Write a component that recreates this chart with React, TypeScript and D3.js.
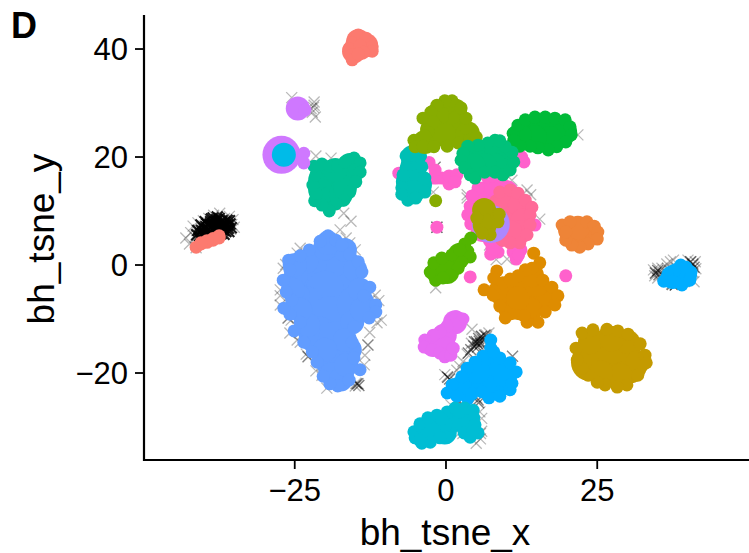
import React from "react";
import * as d3 from "d3";

type P = [number, number];

const xTicks = [-25, 0, 25];
const yTicks = [-20, 0, 20, 40];

const unassignedCore: P[] = [
  [-41,6.4],[-40.5,7.4],[-40.3,5.8],[-40,6.8],[-39.8,8],[-39.5,5.6],[-39.3,6.6],[-39,7.6],[-38.8,8.5],[-38.6,5.9],[-38.3,6.9],[-38,7.9],[-37.8,8.9],[-37.6,6.3],[-37.3,7.2],[-37,8.2],[-36.8,6.4],[-36.5,7.4],[-36.2,8.3],[-36,6.8],[-35.7,7.6],[-39.7,7.1],[-38.7,7.2],[-37.7,7.6],[-36.9,7.2],[-38.2,6.1],[-37.2,5.8],[-36.4,6.2],[-39.9,5.2],[-38.9,5.4],
  [-40.7,5.4],[-40.4,6.4],[-39.9,6],[-39.5,7.6],[-39.1,6.2],[-38.9,8],[-38.4,7.5],[-38.1,6.7],[-37.9,8.4],[-37.4,6.7],[-37.2,7.8],[-36.7,6.9],[-36.6,7.9],[-36.1,7.4],[-35.9,6.2],[-38.5,8.7],[-37.5,8.6],[-39.3,5.1],[-40.8,4.9],[-41.2,5.6],[-36.7,5.7],[-38.1,5.2],[-35.5,6.9],[-35.8,8.2],
];

const unassignedDense: P[] = [
  [5,-14.2],[5.4,-13.6],[5.7,-14.6],[6.1,-13.9],[4.6,-15],[5.2,-15.2],[4.1,-15.7],[5.9,-13.2],[6.4,-13],[3.7,-16.3],[4.7,-14.2],[5.2,-14.6],[5.5,-14.1],
  [0.3,-20.8],[0.6,-21.1],[2,-25],[2.1,-25.4],[5.3,-25],[5.4,-25.5],[-14.7,-22],[-14.4,-22.3],
  [34.6,-1.5],[35,-1],[35.2,-1.8],[37.4,-3.6],[37.9,-3.7],[40.8,0.2],[40.4,0.6],[41,-0.4],
];

const unassigned: P[] = [
  // left group
  [-42.2,6],[-41.8,7.2],[-41.5,5.2],[-41.2,6.4],[-41,7.8],[-40.7,4.6],[-40.5,5.8],[-40.3,7],[-40.1,8.2],[-39.8,5.4],[-39.6,6.4],[-39.4,7.4],[-39.2,8.6],[-39,5.9],[-38.8,6.9],[-38.6,7.9],[-38.4,9.2],[-38.2,5.5],[-38,6.4],[-37.8,7.3],[-37.6,8.2],[-37.4,9.6],[-37.2,5.9],[-37,6.8],[-36.8,7.7],[-36.6,8.6],[-36.4,6.2],[-36.2,7.1],[-36,8],[-35.8,9],[-35.6,6.6],[-35.4,7.5],[-35.2,8.4],[-35,7],[-43,5],[-42.4,3.9],[-41.3,3.2],
  // right group
  [34.3,-0.9],[34.7,-1.5],[35,-0.6],[34.5,-2],[35.3,-1.3],[35.7,-0.6],[36.5,0.2],[37.1,0.6],[37.6,0.9],[40,0.9],[40.5,0.6],[40.8,0],[41.2,0.6],[40.8,-1.3],[37.3,-3.5],[37.9,-3.7],[41,-3.1],[35,-2.4],[35.8,-1.9],[36.6,-0.6],[38,-3.6],[41.3,-0.7],
  // around blue group
  [-26.9,-0.6],[-26.5,0.1],[-27.4,-4.6],[-27.4,-5.7],[-26.1,-9.8],[-25.6,-10.2],[-26.1,-9.8],[-24.1,-14.3],[-24.6,-13.9],[-22.8,-17],[-23.1,-16.5],[-22.8,-17],[-12.9,-14.8],[-12.9,-14.8],[-14.5,-22],[-15,-22.4],[-14.9,-21.9],[-11.4,-10.7],[-10.7,-10.2],[-15.9,4.1],[-17.5,6.5],[-15,2.8],[-24.1,3.1],[-19.7,-22.8],[-13.4,-16.7],[-11.7,-5.6],[-20.5,-20.4],[-27.4,-7.4],[-24.6,2.2],[-16.5,5],[-11.1,-6.6],[-12.6,-12.5],[-13.5,-18.5],[-21.5,-19.6],[-25.8,-12.6],
  // around teal group and purple
  [-16.9,9.6],[-15.7,8.1],[-21.5,20.2],[-19,19.8],[-21.8,29.6],[-21.6,27.4],[-22.1,28.3],[-21.8,30.2],[-22.3,29],[-25.5,31],[-21.9,29.2],
  // centre
  [-1.8,18.1],[-1.8,18.1],[-2.1,13.5],[7.9,15.9],[8.6,15.8],[9.2,15.6],[9.9,15.8],[10.9,15.7],[13.4,13.9],[14,13],[3.5,13],[3.5,12.4],[10.1,1.1],[7.2,3.7],[-1.5,7],[-1.5,7],[-1.5,7],[8.3,1],[15.5,8.5],[21.8,24.1],[-1.7,-4.2],
  // above azure group
  [4.3,-11.9],[6.6,-12.9],[6.7,-13.3],[5.8,-13.3],[4.2,-14.5],[6,-15.4],[3.5,-16.5],[7.1,-12.6],[2.8,-17.9],[2.3,-18.8],[11,-16.9],[11,-16.9],
  // left of and below azure group
  [0.2,-20.7],[-0.2,-20.3],[1.4,-21.4],[1.8,-19.5],[5.1,-24.6],[5.6,-27.2],[5.9,-28.4],[0.8,-25.9],[5.7,-31.2],[5.9,-30.8],[5.7,-32.2],[1.6,-30],[1.8,-30.7],[2.4,-30.9],[2.8,-31.2],[5,-33],
];

const magenta: P[] = [[-7.8,17],[-2.8,19],[-1.5,16.1],[-0.7,16.1],[-2.1,16.1],[-1.8,17.6],[0.5,15],[0.5,16.5],[1.8,16.7],[1.5,15.4],[-1.5,7],[4,-2.2],[19.8,-2],[11.9,20.9],[12.5,20],[12.9,19.1],[6.8,16.3],[7.6,16.5],[5.3,14.3],[4.3,12.8],[4,10.9],[3.6,9.3],[4.1,7.6],[5.3,6.1],[7.6,3.1],[8.6,2.4],[7.4,2],[8,2.9],[11.1,2.4],[11.9,1.7],[12.4,2.8],[11.6,1.1],[12,1.9],[14.7,7.4]];
const magentaLarge: P[] = [[6,11.1],[6.4,8],[8,5],[10,13.5],[6.4,13.3],[5.6,9.3],[6.1,6.5],[8.1,14.8]];

const orchid: P[] = [[1.7,-9.6],[2.8,-10],[1.5,-11.1],[0.2,-11.3],[-1,-12.4],[-2.1,-13],[-3.5,-13.9],[-3.6,-15.2],[-2.3,-15.7],[-1,-16.3],[-0.2,-17],[0.8,-16.7],[1.2,-15.4]];
const orchidLarge: P[] = [[-0.5,-14.3],[1.5,-10.6],[-0.2,-13],[-2.1,-14.8],[-0.2,-15.4]];

const teal: P[] = [[-6.6,20.2],[-4.2,20.2],[-6.6,18],[-4,18.2],[-7.1,16.7],[-3.5,16.1],[-7.3,14.3],[-3.5,13.5],[-6.3,12],[-5,12.4],[-7.3,13.1],[-5,21]];
const tealLarge: P[] = [[-5.5,18.5],[-5.5,15.2],[-4.3,14.8],[-6.3,15.4],[-5.5,20],[-5.5,17],[-5.5,13.5]];

const olive: P[] = [[1,30.4],[-0.2,30.4],[-1.5,29.6],[-2.5,28.3],[-3.8,27.2],[-2.1,26.5],[-3,24.6],[-3.5,23.9],[-5.3,23.1],[-5.1,21.9],[-3.8,22],[-2,21.9],[0.2,22],[2,22.6],[4,23.3],[5,23.7],[3.3,25.4],[3.3,27.2],[2.5,29.1],[-1.7,11.9]];
const oliveLarge: P[] = [[0.7,27.2],[-0.7,25.9],[1.5,24.6],[-1.7,24.1],[0.2,23.9],[-0.2,28.6],[1.5,28.6],[2,26.5],[2.6,24.4],[-1.5,27.8],[-2.3,25],[-3.5,22.8],[-0.2,24.1],[3.6,24.4]];

const brightGreen: P[] = [[11.1,24.4],[11.9,25.9],[13.1,26.9],[14.7,27.4],[16.4,27.4],[18,27.2],[19.7,26.9],[20.5,25.6],[20.7,24.1],[19.8,22.8],[18.3,21.9],[16.9,21.3],[15.2,21.7],[13.9,22],[12.2,22],[11.2,23.1]];
const brightGreenLarge: P[] = [[13.4,24.4],[15.9,24.6],[18.3,24.6],[13.1,25],[14.7,25.4],[16.9,25.4],[18.8,25],[19.7,24.6],[17.2,23.5],[14.7,23.7],[12.2,24.1]];

const emerald: P[] = [[8.1,23.1],[6.9,22.6],[5.3,22.2],[3.6,22],[2.8,20.7],[2.5,19.4],[3.1,18],[4,16.7],[4.8,16.1],[6.4,17.2],[8.1,17.2],[9.4,16.7],[10.6,17.6],[11.2,19.1],[10.9,20.9],[9.8,21.9],[8.9,23]];
const emeraldLarge: P[] = [[5.6,19.8],[8.6,19.8],[7.3,21.3],[4.8,18.5],[4.5,19.8],[6.4,20.4],[8.4,20.9],[9.8,19.4],[8.1,18.5],[6.4,18.5],[4.5,18.5]];

const pink: P[] = [[8.9,13.5],[10.6,13.9],[11.9,13.3],[13.1,12],[14.2,10.7],[13.9,9.3],[13.9,7.4],[13.4,5.6],[12.2,4.1],[10.6,4.1],[9.3,4.6]];
const pinkLarge: P[] = [[8.9,11.1],[9.8,5.6],[9.8,12],[12.2,11.1],[12.7,8.3],[12.2,6.1],[10.6,6.1]];
const pinkHuge: P[] = [[10.9,10.2],[11.2,7.4]];

const lavenderHuge: P[] = [[7.4,7.6]];

const yellowOlive: P[] = [[8.4,9.3],[8.6,8],[7.3,5.6],[5.1,8.7],[6,5.9],[8.8,9.4]];
const yellowOliveLarge: P[] = [[6.3,10.2],[6.4,7.4]];

const orange: P[] = [[19.2,7.4],[20.5,8],[23.3,8],[24.5,7.2],[25.1,6.1],[25,4.8],[23.5,3.9],[22.1,3.3],[20.8,3.7],[19.8,4.6],[19.8,6.1]];
const orangeLarge: P[] = [[21.8,6.1],[23.1,5.9],[20.5,6.5],[23.8,6.1],[21.5,5.2],[21.8,6.9]];

const green: P[] = [[4.1,5],[3.1,3.9],[3.6,2.6],[4,1.5],[2.6,0.6],[2,-0.6],[0.7,-1.9],[-1.7,-2.8],[-2.6,-1.3],[-2,0.4],[-0.7,1.3],[1,1.9],[2.3,2.8],[-0.5,-2.4]];
const greenLarge: P[] = [[-0.2,-0.6],[1.5,0.9],[-0.7,-0.6],[1,0.2],[2.3,1.9],[-1.3,-1.3],[0.2,-1.3]];

const darkOrange: P[] = [[14.5,2.2],[15.5,0.4],[14.2,-0.6],[13.1,-0.9],[8.4,-1.1],[7.9,-2.4],[9.4,-3.3],[6.3,-4.6],[10.6,-2.6],[11.9,-2],[16,-2.8],[17.5,-4.1],[18.5,-5.7],[18,-7.4],[16.4,-8.7],[15.2,-10.6],[13.4,-10.6],[12.9,-9.4],[9.8,-9.8],[8.9,-7.6],[7.8,-5.6]];
const darkOrangeLarge: P[] = [[10.9,-5.6],[14.2,-5],[15.5,-7],[12.2,-8],[9.3,-4.6],[13.9,-2.8],[9.8,-6.5],[11.4,-3.7],[13.1,-3.7],[16.4,-6.1],[13.9,-8.3],[10.6,-8],[8.9,-5],[11.9,-6.1],[15,-3.7],[14.2,-1.9]];

const gold: P[] = [[22.5,-12.6],[24.3,-12],[26.6,-11.9],[28.4,-12.2],[30.1,-12.8],[32.1,-14.6],[32.9,-16.7],[33.1,-18.1],[31.7,-20.4],[29.9,-22.2],[28.3,-22.6],[26.3,-22.2],[25,-21.7],[23.5,-20.4],[22.5,-19.1],[21.7,-17.6],[21.5,-15.4]];
const goldLarge: P[] = [[23.8,-14.3],[30.1,-14.3],[31.7,-18],[28.8,-20.4],[25.6,-19.9],[27.4,-13.8]];
const goldHuge: P[] = [[25.1,-15.7],[28.8,-15.7],[27.1,-19],[30.1,-18.5],[23.8,-18],[27.4,-14.8]];

const salmon: P[] = [[-14.5,42.6],[-15.5,41.1],[-13.2,42],[-12.2,40.4],[-12.2,39.6],[-16,40],[-14.2,40.7],[-13.6,39.4],[-15.5,38.9],[-15.5,38],[-14.5,39.1],[-37.5,5],[-38.5,4.6],[-39.5,4.2],[-40.5,3.9],[-41.3,3.3],[-37.5,5.4],[-38.5,4.9],[-39.5,4.5],[-40.5,4.1]];
const salmonLarge: P[] = [[-14.5,41.5],[-13.2,40.7],[-15.2,39.6],[-14.2,40.2]];

const seaGreen: P[] = [[-15.2,19.8],[-14.2,18.9],[-15,17.6],[-14.2,17.2],[-14.9,15.4],[-15.9,13.5],[-16.9,12],[-18.2,11.3],[-19.3,10],[-20.5,11.1],[-21.7,11.9],[-21.5,13.3],[-22,14.8],[-21.5,16.7],[-21.8,18.3],[-20.5,18.7],[-19.2,18.3],[-17.9,18.3],[-16.7,19.1]];
const seaGreenLarge: P[] = [[-18.3,15.7],[-20,14.8],[-17.2,14.3],[-16.5,16.7],[-19.5,13],[-20,16.9],[-15.9,18.5],[-20.8,15.7],[-20.8,13.9],[-19.2,12.4],[-17.4,13],[-15.9,16.1],[-16.7,14.3],[-18.3,17.6]];

const purple: P[] = [[-23.3,28.7],[-24.1,19.8],[-23.5,20.7],[-23.5,18.9]];
const purpleLarge: P[] = [[-24.5,29]];
const purpleHuge: P[] = [[-27.2,20.4]];
const skyLarge: P[] = [[-26.8,20.4]];

const blue: P[] = [[-19.5,5.4],[-20.8,4.4],[-18.2,4.6],[-17.2,3.7],[-22.6,2.8],[-24.1,1.7],[-26,0.9],[-15.9,2],[-14.5,0.6],[-13.9,-1.3],[-12.6,-4.1],[-13.6,-5.7],[-11.6,-7.4],[-11.6,-8.7],[-12.7,-9.8],[-15.2,-11.5],[-15.5,-14.3],[-15.2,-17.2],[-14.2,-19.4],[-16,-21.3],[-17.9,-22.4],[-19.2,-22],[-20.3,-20.6],[-21.3,-18],[-22.1,-16.1],[-23.5,-14.3],[-25.1,-12.2],[-24.1,-10.6],[-25.8,-9.1],[-26.8,-8],[-25.5,-6.5],[-26.9,-2.8],[-25.8,-0.9],[-26.4,-5]];
const blueLarge: P[] = [[-17.2,-20.3],[-23.1,0.6],[-22.8,-11.1],[-15.5,-10.6],[-15.9,-15.7],[-16.7,2.8],[-20,3.1],[-18.8,-20.2],[-24.8,-1.9],[-24.5,-5.6],[-25,0],[-25.3,-4.6],[-24.1,-8.3],[-15,-0.9],[-14.2,-4.6],[-13.9,-8.3],[-16.7,-13.9],[-20,-15.7],[-17.4,-21.2],[-19.5,4.1],[-16.5,-18.5]];
const blueHuge: P[] = [[-20,0.6],[-16.7,-0.9],[-23.3,-2.8],[-15.9,-5],[-20,-4.6],[-23.3,-7.4],[-19.2,-9.3],[-14.9,-7.4],[-21.2,-13],[-18,-13.9],[-18.3,-18]];

const azure: P[] = [[7.4,-13.9],[7.4,-15.4],[6.1,-16.9],[4.8,-18],[3.5,-19.1],[2.6,-20.7],[1,-22.2],[0.2,-23.7],[1.8,-24.3],[3.6,-24.8],[4.3,-23.9],[6,-23.5],[7.1,-24.6],[8.9,-24.3],[10.6,-23.1],[10.9,-21.9],[11.6,-19.8],[10.6,-18.1],[8.9,-17.2],[7.9,-16.1],[38.8,0],[37.9,-0.9],[36.7,-2],[36,-3],[37.4,-3],[39,-3.7],[40.3,-2.8],[40.5,-1.3],[39.7,-0.4]];
const azureLarge: P[] = [[6.8,-19.8],[8.6,-20.9],[4.3,-21.9],[38.7,-1.9],[6.5,-18.5],[8.9,-19.8],[8.9,-22.2],[6.4,-22.2],[4,-20.9],[2.3,-22.8],[9.8,-20.4],[5.3,-19.8],[39.5,-1.9],[37.5,-2.2]];

const cyan: P[] = [[-5.3,-30.9],[-4.3,-29.4],[-3,-28.3],[-1.5,-27.8],[0.2,-27.2],[1.5,-26.5],[3.1,-26.5],[4.5,-26.9],[4.6,-28.3],[4.8,-29.6],[5.3,-31.1],[4,-31.9],[3,-31.1],[0.2,-31.9],[-1,-32],[-2.6,-32.8],[-4,-33],[-5.1,-32],[2.2,-27.2],[-0.7,-28.5],[-4.4,-32.4],[4.4,-30.8]];
const cyanLarge: P[] = [[-2.3,-30.6],[0,-29.6],[2.8,-28.3],[-3.5,-31],[-1.8,-30.2],[-0.2,-31],[1.5,-28.7],[3,-28.7],[-1,-29.6],[-2.8,-31]];

const radiusSmall = 6.5;
const radiusLarge = 12;
const radiusHuge = 19;

interface Series { color: string; small?: P[]; large?: P[]; huge?: P[] }
const seriesList: Series[] = [
  { color: "#FF61CC", small: magenta, large: magentaLarge },
  { color: "#E76BF3", small: orchid, large: orchidLarge },
  { color: "#00BFB5", small: teal, large: tealLarge },
  { color: "#87AC00", small: olive, large: oliveLarge },
  { color: "#00BA38", small: brightGreen, large: brightGreenLarge },
  { color: "#00C17A", small: emerald, large: emeraldLarge },
  { color: "#FF6A98", small: pink, large: pinkLarge, huge: pinkHuge },
  { color: "#AC88FF", huge: lavenderHuge },
  { color: "#A6A400", small: yellowOlive, large: yellowOliveLarge },
  { color: "#EE8437", small: orange, large: orangeLarge },
  { color: "#52B500", small: green, large: greenLarge },
  { color: "#DE8C00", small: darkOrange, large: darkOrangeLarge },
  { color: "#C49A00", small: gold, large: goldLarge, huge: goldHuge },
  { color: "#FC7A6F", small: salmon, large: salmonLarge },
  { color: "#00BF94", small: seaGreen, large: seaGreenLarge },
  { color: "#CF78FF", small: purple, large: purpleLarge, huge: purpleHuge },
  { color: "#00BBE8", large: skyLarge },
  { color: "#619CFF", small: blue, large: blueLarge, huge: blueHuge },
  { color: "#00ADFF", small: azure, large: azureLarge },
  { color: "#00BDD4", small: cyan, large: cyanLarge },
];

const left = 145, right = 748, top = 15, bottom = 460;
const x = d3.scaleLinear().domain([-49.75, 49.92]).range([left, right]);
const y = d3.scaleLinear().domain([-36.11, 46.3]).range([bottom, top]);

const font = "'Liberation Sans', Arial, sans-serif";
const xm = 5.5;
const cross = ([a, b]: P) => `M${x(a) - xm},${y(b) - xm}L${x(a) + xm},${y(b) + xm}M${x(a) - xm},${y(b) + xm}L${x(a) + xm},${y(b) - xm}`;

export default function App() {
  return (
    <svg width={749} height={553} style={{ position: "absolute", left: 0, top: 0, background: "#fff" }} fontFamily={font}>
      <g stroke="#000" strokeOpacity={0.28} strokeWidth={1.3} fill="none">
        {unassigned.map((p, i) => <path key={i} d={cross(p)} />)}
      </g>
      <g stroke="#000" strokeOpacity={0.5} strokeWidth={1.4} fill="none">
        {unassignedDense.map((p, i) => <path key={i} d={cross(p)} />)}
      </g>
      <g stroke="#000" strokeOpacity={0.9} strokeWidth={2.2} fill="none">
        {unassignedCore.map((p, i) => <path key={i} d={cross(p)} />)}
      </g>
      {seriesList.map((s, i) => (
        <g key={i} fill={s.color}>
          {(s.huge ?? []).map(([a, b], j) => <circle key={"h" + j} cx={x(a)} cy={y(b)} r={radiusHuge} />)}
          {(s.large ?? []).map(([a, b], j) => <circle key={"l" + j} cx={x(a)} cy={y(b)} r={radiusLarge} />)}
          {(s.small ?? []).map(([a, b], j) => <circle key={"s" + j} cx={x(a)} cy={y(b)} r={radiusSmall} />)}
        </g>
      ))}
      <path d={`M${left - 1},${top}V${bottom}H${right + 1}`} fill="none" stroke="#000" strokeWidth={2.2} />
      {xTicks.map((t) => (
        <g key={t}>
          <line x1={x(t)} x2={x(t)} y1={bottom} y2={bottom + 9} stroke="#000" strokeWidth={1.8} />
          <text x={x(t)} y={bottom + 41} textAnchor="middle" fontSize={31}>{t < 0 ? "\u2212" + Math.abs(t) : t}</text>
        </g>
      ))}
      {yTicks.map((t) => (
        <g key={t}>
          <line x1={left - 10} x2={left} y1={y(t)} y2={y(t)} stroke="#000" strokeWidth={1.8} />
          <text x={left - 17} y={y(t) + 11} textAnchor="end" fontSize={31}>{t < 0 ? "\u2212" + Math.abs(t) : t}</text>
        </g>
      ))}
      <text x={445} y={545} textAnchor="middle" fontSize={37}>bh_tsne_x</text>
      <text transform="translate(54,239) rotate(-90)" textAnchor="middle" fontSize={37}>bh_tsne_y</text>
      <text x={11} y={38} fontSize={36} fontWeight="bold">D</text>
    </svg>
  );
}
